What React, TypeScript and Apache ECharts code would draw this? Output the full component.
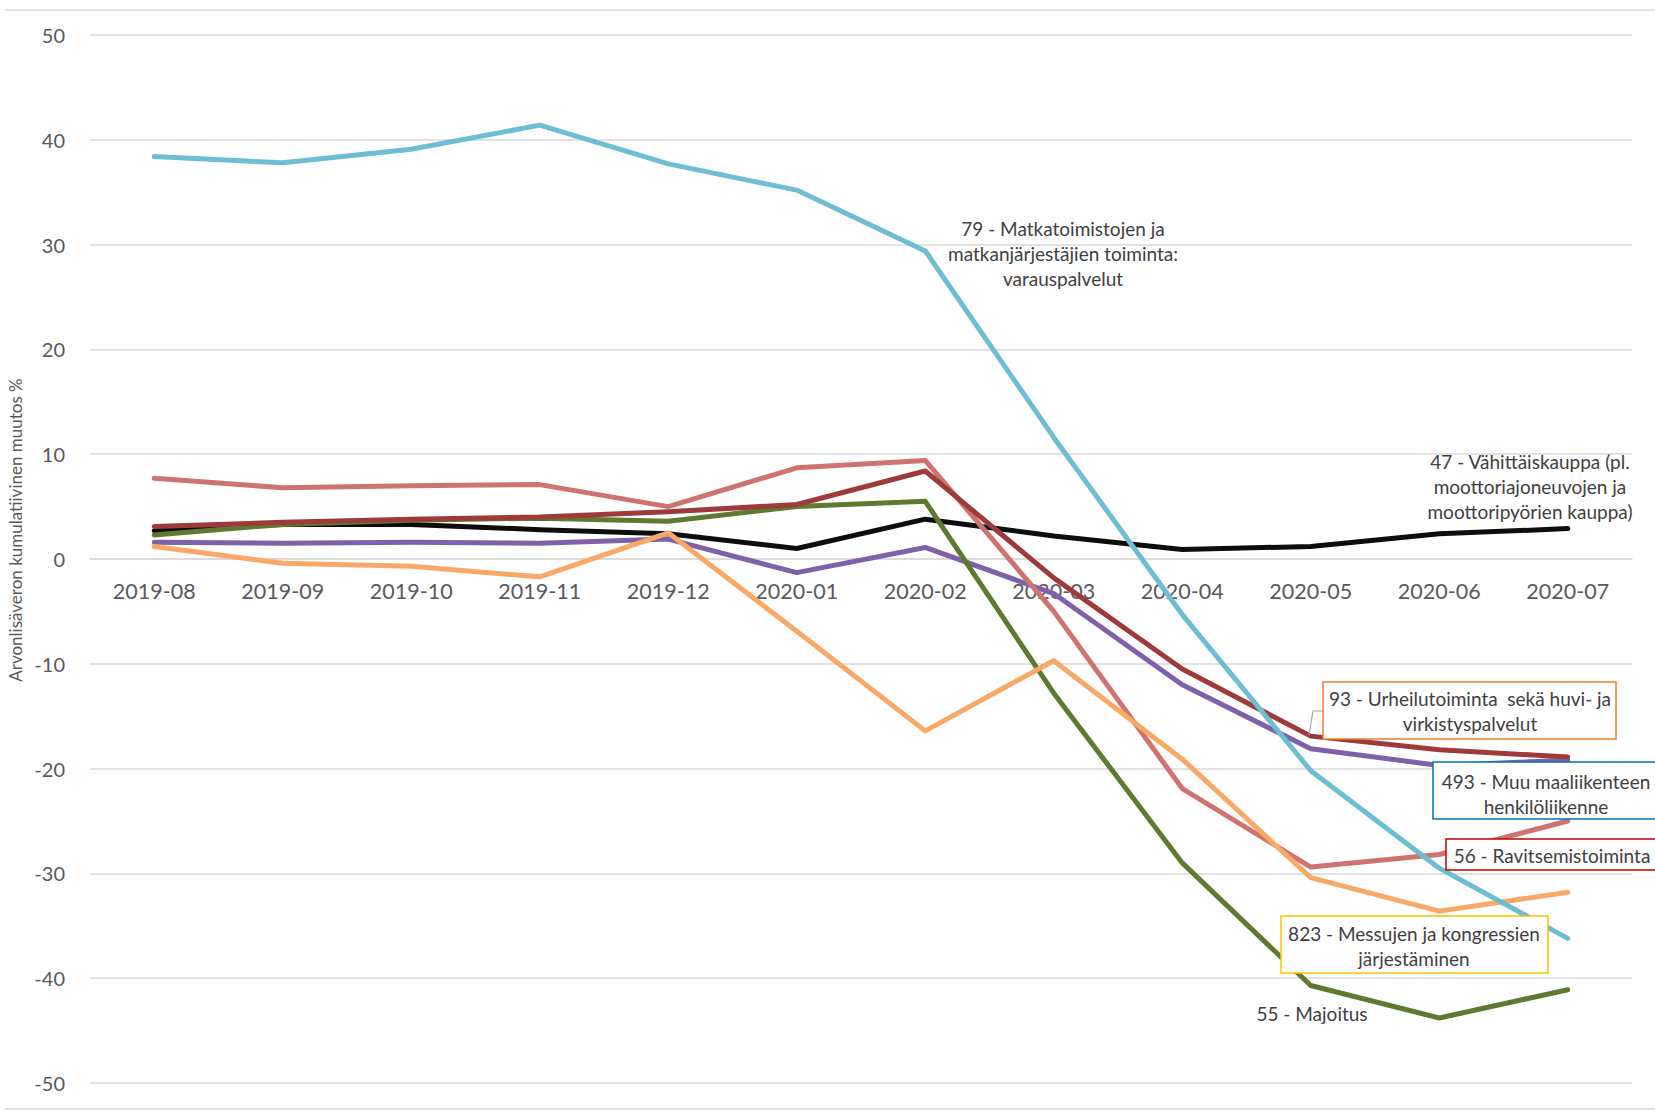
import React, { useEffect, useRef } from "react";
import * as echarts from "echarts";

const categories = ["2019-08", "2019-09", "2019-10", "2019-11", "2019-12", "2020-01", "2020-02", "2020-03", "2020-04", "2020-05", "2020-06", "2020-07"];

const retail47 = [2.7, 3.3, 3.3, 2.8, 2.4, 1.0, 3.8, 2.2, 0.9, 1.2, 2.4, 2.9];
const transport493 = [1.6, 1.5, 1.6, 1.5, 1.9, -1.3, 1.1, -3.3, -12.0, -18.1, -19.7, -19.2];
const accommodation55 = [2.3, 3.3, 3.7, 3.9, 3.6, 5.0, 5.5, -12.8, -29.0, -40.7, -43.8, -41.1];
const food56 = [7.7, 6.8, 7.0, 7.1, 5.0, 8.7, 9.4, -5.0, -21.9, -29.4, -28.2, -25.0];
const sports93 = [3.1, 3.5, 3.8, 4.0, 4.5, 5.2, 8.4, -1.8, -10.5, -16.9, -18.2, -18.9];
const fairs823 = [1.2, -0.4, -0.7, -1.7, 2.5, -6.9, -16.4, -9.7, -19.1, -30.4, -33.6, -31.8];
const travel79 = [38.4, 37.8, 39.1, 41.4, 37.7, 35.2, 29.4, 11.6, -5.3, -20.2, -29.5, -36.2];

const seriesNames = [
  "47 - Vähittäiskauppa",
  "493 - Muu maaliikenteen henkilöliikenne",
  "55 - Majoitus",
  "56 - Ravitsemistoiminta",
  "93 - Urheilutoiminta sekä huvi- ja virkistyspalvelut",
  "823 - Messujen ja kongressien järjestäminen",
  "79 - Matkatoimistojen ja matkanjärjestäjien toiminta: varauspalvelut",
];
const seriesData = [retail47, transport493, accommodation55, food56, sports93, fairs823, travel79];
const seriesColors = ["#0d0d0d", "#7e61a8", "#5f7a2f", "#cf7370", "#9e3b3a", "#f9a965", "#6dbed3"];

const yTitle = "Arvonlisäveron kumulatiivinen muutos %";

export default function App() {
  const ref = useRef<HTMLDivElement>(null);
  useEffect(() => {
    document.body.style.margin = "0";
    if (!ref.current) return;
    const chart = echarts.init(ref.current, undefined, { renderer: "svg" });
    const font = "Lato, 'Noto Sans', sans-serif";
    const txt = "#404040";
    const gridTop = 35;
    const gridBottom = 28;
    const plotH = 1111 - gridTop - gridBottom;
    const mkText = (x: number, y: number, text: string, extra: any = {}) => ({
      type: "text",
      x,
      y,
      style: {
        text,
        fill: txt,
        font: `19px ${font}`,
        textAlign: "center",
        textVerticalAlign: "middle",
        lineHeight: 25,
        ...extra,
      },
      z: 100,
    });
    const mkBox = (x: number, y: number, w: number, h: number, color: string) => ({
      type: "rect",
      shape: { x, y, width: w, height: h },
      style: { fill: "#ffffff", stroke: color, lineWidth: 1.5 },
      z: 99,
    });
    chart.setOption({
      animation: false,
      backgroundColor: "#ffffff",
      grid: { left: 90, right: 23, top: gridTop, bottom: gridBottom, containLabel: false, outerBoundsMode: "none" },
      xAxis: {
        type: "category",
        data: categories,
        boundaryGap: true,
        position: "bottom",
        offset: -plotH / 2,
        axisLine: { show: true, onZero: false, lineStyle: { color: "#d9d9d9", width: 1.5 } },
        axisTick: { show: false },
        axisLabel: { color: "#595959", fontSize: 21.5, fontFamily: font, margin: 21 },
        splitLine: { show: false },
      },
      yAxis: {
        type: "value",
        min: -50,
        max: 50,
        interval: 10,
        axisLine: { show: false },
        axisTick: { show: false },
        axisLabel: { color: "#595959", fontSize: 20, fontFamily: font, margin: 25 },
        splitLine: { show: true, lineStyle: { color: "#d9d9d9", width: 1.5 } },
      },
      series: seriesData.map((d, i) => ({
        type: "line",
        name: seriesNames[i],
        data: d,
        symbol: "none",
        lineStyle: { color: seriesColors[i], width: 5, cap: "round", join: "round" },
        itemStyle: { color: seriesColors[i] },
        z: 2 + i,
      })),
      graphic: [
        { type: "line", shape: { x1: 5, y1: 10, x2: 1655, y2: 10 }, style: { stroke: "#d9d9d9", lineWidth: 1.5 } },
        { type: "line", shape: { x1: 5, y1: 1109, x2: 1655, y2: 1109 }, style: { stroke: "#d9d9d9", lineWidth: 1.5 } },
        {
          type: "text",
          x: 15,
          y: 530,
          rotation: Math.PI / 2,
          style: { text: yTitle, fill: "#595959", font: `17px ${font}`, textAlign: "center", textVerticalAlign: "middle" },
        },
        mkText(1063, 253, "79 - Matkatoimistojen ja\nmatkanjärjestäjien toiminta:\nvarauspalvelut"),
        mkText(1530, 486, "47 - Vähittäiskauppa (pl.\nmoottoriajoneuvojen ja\nmoottoripyörien kauppa)"),
        { type: "polyline", shape: { points: [[1323, 711], [1313, 711], [1309, 735]] }, style: { stroke: "#a6a6a6", lineWidth: 1.2, fill: null }, z: 98 },
        mkBox(1323, 682, 293, 57, "#ed7d31"),
        mkText(1470, 711, "93 - Urheilutoiminta  sekä huvi- ja\nvirkistyspalvelut"),
        mkBox(1433, 762, 240, 57, "#0070c0"),
        mkText(1546, 794, "493 - Muu maaliikenteen\nhenkilöliikenne"),
        mkBox(1446, 839, 230, 31, "#c00000"),
        mkText(1552, 855, "56 - Ravitsemistoiminta"),
        mkBox(1281, 916, 267, 57, "#ffc000"),
        mkText(1414, 946, "823 - Messujen ja kongressien\njärjestäminen"),
        mkText(1312, 1013, "55 - Majoitus"),
      ],
    });
    return () => chart.dispose();
  }, []);
  return <div ref={ref} style={{ width: 1655, height: 1111 }} />;
}
